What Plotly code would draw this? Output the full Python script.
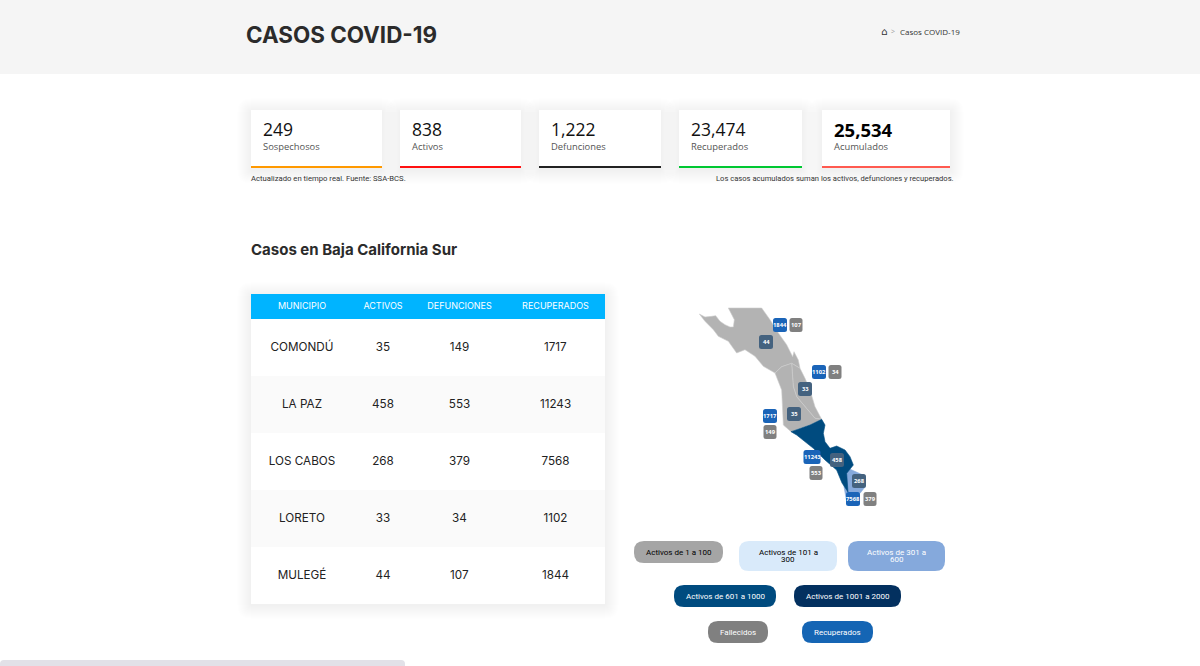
import plotly.graph_objects as go

# summary cards
card_labels = ["Sospechosos", "Activos", "Defunciones", "Recuperados", "Acumulados"]
card_values = ["249", "838", "1,222", "23,474", "25,534"]
card_colors = ["#ff9900", "#ff1111", "#222222", "#00c832", "#ff5a50"]
card_left = [251, 400, 539, 679, 822]
card_right = [382, 521, 661, 802, 950]

# table
municipios = ["COMONDÚ", "LA PAZ", "LOS CABOS", "LORETO", "MULEGÉ"]
activos = [35, 458, 268, 33, 44]
defunciones = [149, 553, 379, 34, 107]
recuperados = [1717, 11243, 7568, 1102, 1844]
table_headers = ["MUNICIPIO", "ACTIVOS", "DEFUNCIONES", "RECUPERADOS"]

# legend
legend_labels = ["Activos de 1 a 100", "Activos de 101 a<br>300", "Activos de 301 a<br>600",
                 "Activos de 601 a 1000", "Activos de 1001 a 2000", "Fallecidos", "Recuperados"]
legend_colors = ["#a5a5a5", "#d9eafa", "#85a9dc", "#004b7f", "#03305f", "#808080", "#1565b4"]
legend_text = ["black", "black", "white", "white", "white", "white", "white"]
legend_boxes = [(634, 541, 723, 563), (739, 541, 837, 571), (848, 541, 945, 571),
                (674, 585, 776, 607), (794, 585, 901, 607), (708, 621, 768, 643), (802, 621, 873, 643)]

# map outlines (zoomed pixels)
mulege_x = [115, 215, 240, 265, 290, 308, 312, 325, 330, 305, 275, 255, 220, 195, 165, 140, 115, 85, 70, 45, 28, 45, 65, 77, 90, 105, 120, 130, 133]
mulege_y = [24, 24, 59, 99, 134, 170, 155, 180, 205, 190, 200, 219, 199, 169, 149, 159, 124, 109, 89, 64, 42, 51, 49, 47, 64, 74, 81, 81, 59]
loreto_x = [305, 330, 345, 360, 375, 385, 395, 375, 345, 320, 310]
loreto_y = [190, 205, 235, 270, 320, 340, 358, 355, 320, 290, 260]
comondu_x = [255, 275, 305, 310, 320, 345, 375, 395, 360, 330, 303, 280, 278, 275]
comondu_y = [219, 200, 190, 260, 290, 320, 355, 358, 375, 385, 395, 375, 340, 270]
lapaz_x = [303, 330, 360, 395, 405, 400, 405, 420, 440, 465, 480, 490, 470, 474, 456, 440, 405, 370, 340, 320]
lapaz_y = [395, 385, 375, 358, 375, 400, 425, 445, 438, 450, 470, 495, 520, 576, 549, 510, 480, 445, 420, 405]
cabos_x = [474, 519, 525, 510, 495, 505, 470, 462, 465]
cabos_y = [505, 525, 561, 580, 590, 612, 605, 560, 520]

# label centres over the map, same order as the table
activos_pos = [(794, 414), (837, 460), (859, 481), (805, 389), (766, 342)]
defunciones_pos = [(770, 432), (816, 473), (870, 499), (835, 372), (796, 325)]
recuperados_pos = [(770, 416), (812, 457), (853, 499), (819, 372), (780, 325)]

row_fills = ["#ffffff", "#fafafa", "#ffffff", "#fafafa", "#ffffff"]


def rounded(x0, y0, x1, y1, r):
    return (f"M{x0+r},{y0} L{x1-r},{y0} Q{x1},{y0} {x1},{y0+r} L{x1},{y1-r} Q{x1},{y1} {x1-r},{y1} "
            f"L{x0+r},{y1} Q{x0},{y1} {x0},{y1-r} L{x0},{y0+r} Q{x0},{y0} {x0+r},{y0} Z")


def map_x(values):
    return [690 + v / 3 for v in values]


def map_y(values):
    return [300 + v / 3 for v in values]


def shadow(x0, y0, x1, y1):
    # soft box shadow from stacked see-through rectangles
    out = []
    for grow in range(1, 15):
        out.append(dict(type="path", path=rounded(x0 - grow, y0 - grow + 2, x1 + grow, y1 + grow + 2, grow),
                        fillcolor="rgba(0,0,0,0.005)", line_width=0, layer="below"))
    return out


shapes = []
notes = []


def text(x, y, s, size, color="#222222", family="Open Sans", anchor="left"):
    # annotations carry a little padding, take it off so the text edge lands on x
    x = x - 2 if anchor == "left" else x + 2 if anchor == "right" else x
    notes.append(dict(x=x, y=y, text=s, showarrow=False, xanchor=anchor, yanchor="middle",
                      font=dict(size=size, color=color, family=family)))


# page header
shapes.append(dict(type="rect", x0=0, x1=1200, y0=0, y1=74, fillcolor="#f5f5f5", line_width=0, layer="below"))
text(246, 34, "<b>CASOS COVID-19</b>", 22.4, "#2b2b2b", "Inter")
text(884, 31, "⌂", 10, "#333333", "DejaVu Sans", "center")
text(893, 31, "&gt;", 7, "#999999", "Open Sans", "center")
text(900, 31, "Casos COVID-19", 8, "#333333", "Open Sans")

# cards
for i in range(5):
    shapes += shadow(card_left[i], 110, card_right[i], 168)
    shapes.append(dict(type="rect", x0=card_left[i], x1=card_right[i], y0=110, y1=166,
                       fillcolor="white", line_width=0, layer="below"))
    shapes.append(dict(type="rect", x0=card_left[i], x1=card_right[i], y0=166, y1=168,
                       fillcolor=card_colors[i], line_width=0, layer="below"))
    if i == 4:
        text(card_left[i] + 12, 129, f"<b>{card_values[i]}</b>", 18.5, "black")
    else:
        text(card_left[i] + 12, 129, card_values[i], 17.5, "#111111")
    text(card_left[i] + 12, 146, card_labels[i], 9.4, "#555555")

text(251, 178, "Actualizado en tiempo real. Fuente: SSA-BCS.", 7.7, "#333333", "Roboto")
text(954, 178, "Los casos acumulados suman los activos, defunciones y recuperados.", 7.6, "#333333", "Roboto", "right")
text(251, 249, "<b>Casos en Baja California Sur</b>", 15, "#2b2b2b", "Inter")

# table background, the text itself comes from the table trace
shapes += shadow(251, 294, 605, 603)
shapes.append(dict(type="rect", x0=251, x1=605, y0=294, y1=319, fillcolor="#00b4ff", line_width=0, layer="below"))
for i, fill in enumerate(row_fills):
    shapes.append(dict(type="rect", x0=251, x1=605, y0=319 + i * 57, y1=319 + (i + 1) * 57,
                       fillcolor=fill, line_width=0, layer="below"))

# legend pills
for i in range(len(legend_labels)):
    x0, y0, x1, y1 = legend_boxes[i]
    shapes.append(dict(type="path", path=rounded(x0, y0, x1, y1, 10), fillcolor=legend_colors[i],
                       line_width=0, layer="below"))
    lines = legend_labels[i].split("<br>")
    for k, line in enumerate(lines):
        cy = (y0 + y1) / 2 + (k - (len(lines) - 1) / 2) * 7.8
        notes.append(dict(x=(x0 + x1) / 2, y=cy, text=line, showarrow=False, align="center",
                          font=dict(size=8, color=legend_text[i], family="Roboto")))

# scrollbar stub at the bottom
shapes.append(dict(type="path", path=rounded(0, 660, 405, 670, 4), fillcolor="#e2e1e8", line_width=0, layer="below"))

fig = go.Figure()

for xs, ys, color in [(mulege_x, mulege_y, "#b3b3b3"), (loreto_x, loreto_y, "#b3b3b3"),
                      (comondu_x, comondu_y, "#b3b3b3"), (cabos_x, cabos_y, "#85a9dc"),
                      (lapaz_x, lapaz_y, "#004b7f")]:
    fig.add_trace(go.Scatter(x=map_x(xs + xs[:1]), y=map_y(ys + ys[:1]), mode="lines", fill="toself",
                             fillcolor=color, line=dict(color="#cccccc" if color == "#b3b3b3" else color, width=0.6),
                             hoverinfo="skip", showlegend=False))

# map labels
for values, places, color in [(activos, activos_pos, "#44627f"), (defunciones, defunciones_pos, "#808080"),
                              (recuperados, recuperados_pos, "#1a64b8")]:
    for value, (cx, cy) in zip(values, places):
        half = 7 if color == "#44627f" else 6.5
        if value > 999:
            half = 7
        if value > 9999:
            half = 8.5
        shapes.append(dict(type="path", path=rounded(cx - half, cy - 7, cx + half, cy + 7, 2.5),
                           fillcolor=color, line_width=0, layer="above"))
        notes.append(dict(x=cx, y=cy, text=f"<b>{value}</b>", showarrow=False,
                          font=dict(size=5.8, color="white", family="Open Sans")))

fig.add_trace(go.Table(
    domain=dict(x=[251 / 1200, 605 / 1200], y=[1 - 603 / 666, 1 - 294 / 666]),
    columnwidth=[102, 60, 93, 99],
    header=dict(values=table_headers, height=23, fill_color="rgba(0,0,0,0)", line_width=0, align="center",
                font=dict(size=9, color="white", family="Inter")),
    cells=dict(values=[[f"&nbsp;<br>{v}" for v in col] for col in (municipios, activos, defunciones, recuperados)],
               height=57, line_width=0, align="center", fill_color="rgba(0,0,0,0)",
               font=dict(size=11.7, color="#222222", family="Inter")),
))

fig.update_layout(
    width=1200, height=666, margin=dict(l=0, r=0, t=0, b=0),
    paper_bgcolor="white", plot_bgcolor="rgba(0,0,0,0)", showlegend=False,
    xaxis=dict(range=[0, 1200], visible=False, fixedrange=True, domain=[0, 1]),
    yaxis=dict(range=[666, 0], visible=False, fixedrange=True, domain=[0, 1]),
    shapes=shapes, annotations=notes,
)

fig.write_html("out.html", config=dict(displayModeBar=False),
               post_script="document.body.style.margin='0';document.body.style.overflow='hidden';")
